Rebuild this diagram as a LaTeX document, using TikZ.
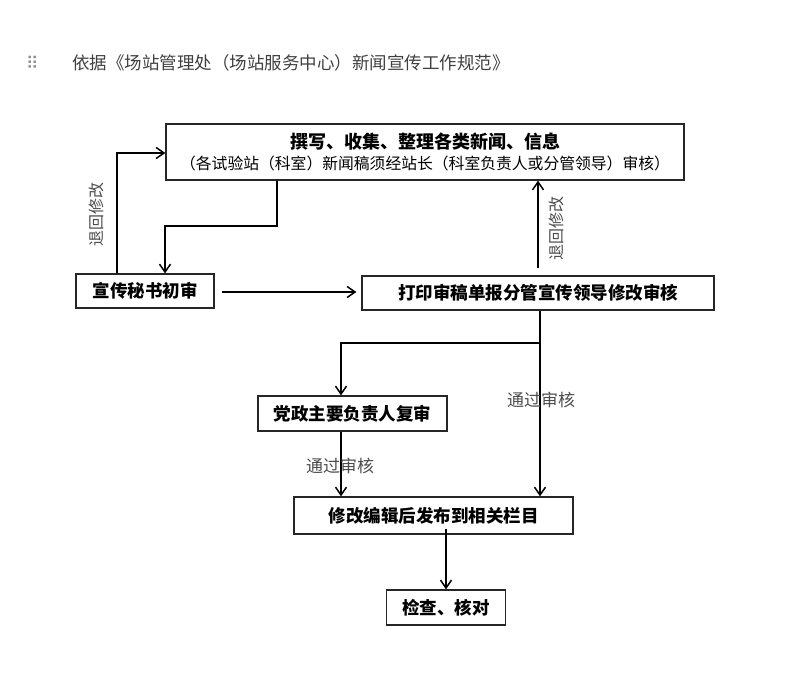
\documentclass[tikz,border=0pt]{standalone}
\usepackage{fontspec}
\setmainfont{Noto Sans CJK SC}
\newfontfamily\dejavu{DejaVu Sans}
\usetikzlibrary{arrows.meta}
\begin{document}
\begin{tikzpicture}[x=1pt,y=-1pt,
  box/.style={draw=black!85,line width=1.2pt,inner sep=0pt,font=\bfseries\fontsize{17.5}{20}\selectfont},
  conn/.style={line width=1.6pt,-{Straight Barb[length=8pt,width=11pt,line width=1.5pt]}},
  lbl/.style={text=black!70,inner sep=0pt,font=\fontsize{17}{18}\selectfont},
  vlbl/.style={text=black!70,inner sep=0pt,rotate=90,font=\fontsize{16}{18}\selectfont}]
\useasboundingbox (0,0) rectangle (800,675);
\node[anchor=west,text=black!45,inner sep=0pt,font=\dejavu\fontsize{17}{17}\selectfont] (grip) at (26,63) {⠿};
\node[anchor=west,text=black!75,inner sep=0pt,font=\fontsize{17.5}{20}\selectfont] (title) at (72,63) {依据《场站管理处（场站服务中心）新闻宣传工作规范》};

\node[box,minimum width=518pt,minimum height=56pt,align=center] (top) at (425,152)
  {{\bfseries\fontsize{18}{21}\selectfont 撰写、收集、整理各类新闻、信息}\\[1pt]{\mdseries\fontsize{15.8}{18}\selectfont （各试验站（科室）新闻稿须经站长（科室负责人或分管领导）审核）}};
\node[box,minimum width=138pt,minimum height=34pt] (left) at (145,291) {宣传秘书初审};
\node[box,minimum width=352pt,minimum height=34pt] (right) at (538,293) {打印审稿单报分管宣传领导修改审核};
\node[box,minimum width=189pt,minimum height=35pt] (party) at (352.5,413.5) {党政主要负责人复审};
\node[box,minimum width=279pt,minimum height=37pt] (bottom) at (433.5,515.5) {修改编辑后发布到相关栏目};
\node[box,minimum width=119pt,minimum height=35pt] (check) at (446,607.5) {检查、核对};

\coordinate (c1) at (277,226);
\coordinate (c2) at (165,226);
\draw[conn] (top.south -| c1) -- (c1) -- (c2) -- (c2 |- left.north);

\coordinate (c3) at (117,153);
\draw[conn] (left.north -| c3) -- (c3) -- (c3 -| top.west);
\node[vlbl] (l1) at (96,214) {退回修改};

\coordinate (c7) at (222,292);
\draw[conn] (c7) -- ([xshift=-5pt]right.west |- c7);

\coordinate (c4) at (538,268);
\draw[conn] (c4) -- (c4 |- top.south);
\node[vlbl] (l2) at (556,228) {退回修改};

\coordinate (c5) at (540,343);
\coordinate (c6) at (341,343);
\draw[conn] (right.south -| c5) -- (c5 |- bottom.north);
\draw[conn] (c5) -- (c6) -- (c6 |- party.north);
\node[lbl] (l3) at (541,400) {通过审核};

\draw[conn] (party.south -| c6) -- (bottom.north -| c6);
\node[lbl] (l4) at (340,466) {通过审核};

\draw[conn] ([yshift=6pt]bottom.south -| check.north) -- (check.north);
\end{tikzpicture}
\end{document}
